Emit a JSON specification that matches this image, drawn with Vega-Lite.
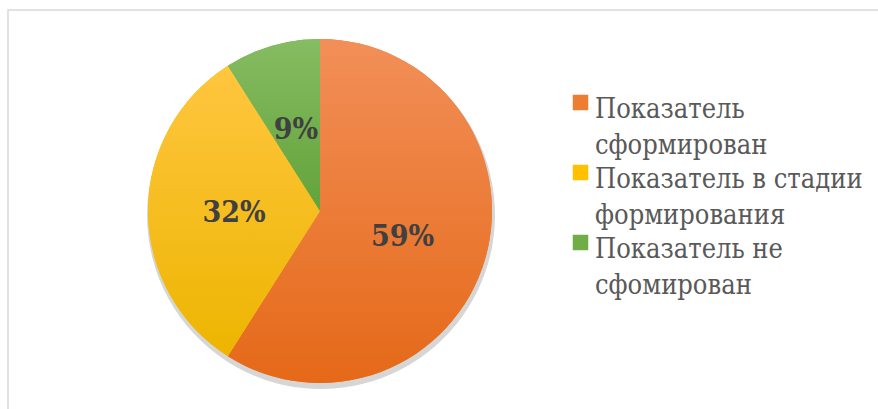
{
  "$schema": "https://vega.github.io/schema/vega-lite/v6.json",
  "autosize": {"type": "none"},
  "width": 872,
  "height": 402,
  "padding": {"left": 8, "top": 10, "right": 0, "bottom": 0},
  "background": "#ffffff",
  "view": {"stroke": "#d9d9d9", "strokeWidth": 1.5},
  "data": {
    "values": [
      {"category": "Показатель сформирован", "value": 0.59},
      {"category": "Показатель в стадии формирования", "value": 0.32},
      {"category": "Показатель не сфомирован", "value": 0.09}
    ]
  },
  "encoding": {
    "theta": {"field": "value", "type": "quantitative", "stack": true},
    "order": {"field": "value", "sort": "descending"}
  },
  "layer": [
    {
      "mark": {"type": "arc", "x": 313, "y": 205, "radius": 174, "color": "#000000", "opacity": 0.16}
    },
    {
      "mark": {"type": "arc", "x": 312, "y": 201, "radius": 172, "strokeWidth": 0},
      "encoding": {
        "color": {
          "field": "category",
          "type": "nominal",
          "sort": null,
          "scale": {
            "domain": ["Показатель сформирован", "Показатель в стадии формирования", "Показатель не сфомирован"],
            "range": ["#ED7D31", "#FFC000", "#70AD47"]
          },
          "legend": {
            "orient": "none",
            "legendX": 559,
            "legendY": 79,
            "title": null,
            "symbolType": "square",
            "symbolSize": 240,
            "symbolStrokeWidth": 0,
            "labelFont": "DejaVu Serif Condensed",
            "labelFontSize": 27,
            "labelColor": "#595959",
            "labelLimit": 400,
            "labelOffset": 1,
            "labelBaseline": "top",
            "rowPadding": 0,
            "labelExpr": "[substring(datum.label, 0, lastindexof(datum.label, ' ')), substring(datum.label, lastindexof(datum.label, ' ') + 1)]",
            "encode": {
              "labels": {"update": {"lineHeight": {"value": 36}, "dy": {"value": -6}}}
            }
          }
        }
      }
    },
    {
      "mark": {"type": "arc", "x": 312, "y": 201, "radius": 172, "strokeWidth": 0},
      "encoding": {
        "fill": {
          "condition": [
            {"test": "datum.category === 'Показатель сформирован'", "value": {"gradient": "linear", "x1": 0, "y1": 0, "x2": 0, "y2": 1, "stops": [{"offset": 0, "color": "#F28F58"}, {"offset": 1, "color": "#E56918"}]}},
            {"test": "datum.category === 'Показатель в стадии формирования'", "value": {"gradient": "linear", "x1": 0, "y1": 0, "x2": 0, "y2": 1, "stops": [{"offset": 0, "color": "#FFC640"}, {"offset": 1, "color": "#EDB500"}]}}
          ],
          "value": {"gradient": "linear", "x1": 0, "y1": 0, "x2": 0, "y2": 1, "stops": [{"offset": 0, "color": "#86BC62"}, {"offset": 1, "color": "#62A33A"}]}
        }
      }
    },
    {
      "mark": {"type": "text", "x": 312, "y": 203, "radius": 86, "font": "DejaVu Serif Condensed", "fontWeight": "bold", "fontSize": 30, "fill": "#404040"},
      "encoding": {
        "text": {"field": "value", "type": "quantitative", "format": ".0%"}
      }
    }
  ]
}
